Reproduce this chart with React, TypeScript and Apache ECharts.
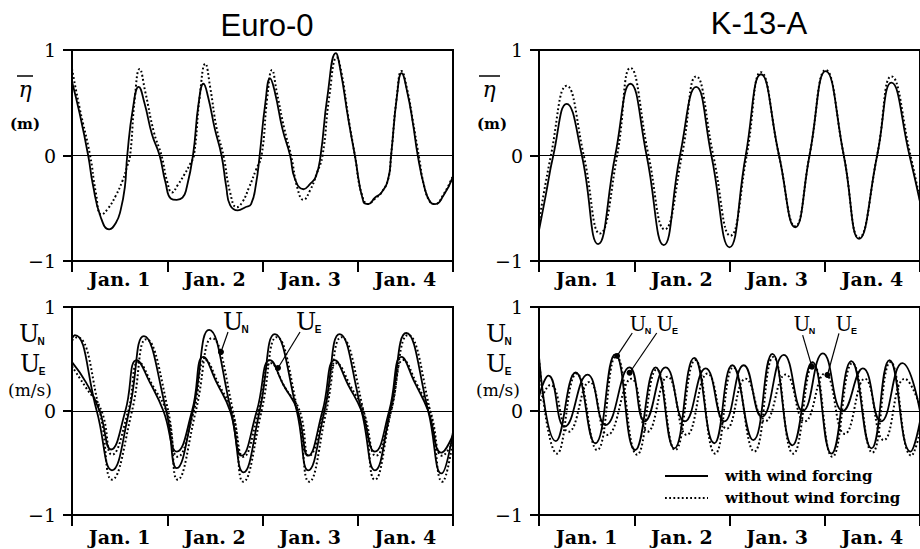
import React, { useEffect, useRef } from "react";
import * as echarts from "echarts";

type Pt = [number, number];

// x axis: days from the start of Jan. 1 (0..4); category labels between ticks
const dayLabels = ["Jan. 1", "Jan. 2", "Jan. 3", "Jan. 4"];
const panelTitles = ["Euro-0", "K-13-A"];
const legendLabels = ["with wind forcing", "without wind forcing"];

// ---- Euro-0, mean surface elevation (m)
const euroEtaWind: Pt[] = [
  [0, 0.7], [0.08, 0.4], [0.17, 0], [0.22, -0.28], [0.3, -0.58], [0.39, -0.7], [0.46, -0.64], [0.51, -0.52],
  [0.555, -0.3], [0.58, 0], [0.64, 0.45], [0.7, 0.65], [0.76, 0.5], [0.84, 0.2], [0.92, 0], [0.98, -0.25],
  [1.04, -0.41], [1.1, -0.42], [1.16, -0.4], [1.2, -0.32], [1.27, 0], [1.33, 0.5], [1.38, 0.68], [1.43, 0.55],
  [1.5, 0.25], [1.57, 0], [1.62, -0.3], [1.66, -0.47], [1.74, -0.52], [1.82, -0.49], [1.88, -0.46], [1.93, -0.28],
  [1.97, 0], [2.03, 0.5], [2.08, 0.73], [2.13, 0.6], [2.21, 0.25], [2.29, 0], [2.34, -0.22], [2.43, -0.32],
  [2.5, -0.27], [2.56, -0.2], [2.61, 0], [2.68, 0.55], [2.77, 0.97], [2.82, 0.8], [2.9, 0.35], [2.97, 0],
  [3.06, -0.44], [3.11, -0.46], [3.18, -0.4], [3.25, -0.35], [3.32, -0.22], [3.35, 0], [3.41, 0.55], [3.46, 0.78],
  [3.52, 0.6], [3.58, 0.3], [3.63, 0], [3.7, -0.3], [3.76, -0.44], [3.81, -0.46], [3.9, -0.38], [4.0, -0.2],
];
const euroEtaNoWind: Pt[] = [
  [0, 0.82], [0.08, 0.45], [0.19, 0], [0.25, -0.35], [0.31, -0.56], [0.38, -0.5], [0.46, -0.38], [0.53, -0.24],
  [0.58, -0.1], [0.61, 0], [0.66, 0.55], [0.71, 0.82], [0.77, 0.6], [0.86, 0.22], [0.94, 0], [1.0, -0.25],
  [1.05, -0.35], [1.11, -0.28], [1.18, -0.18], [1.24, -0.08], [1.28, 0], [1.34, 0.55], [1.4, 0.87], [1.45, 0.65],
  [1.52, 0.25], [1.59, 0], [1.66, -0.35], [1.73, -0.49], [1.79, -0.44], [1.86, -0.3], [1.93, -0.14], [1.99, 0],
  [2.05, 0.55], [2.1, 0.81], [2.15, 0.6], [2.23, 0.25], [2.3, 0], [2.37, -0.32], [2.43, -0.42], [2.5, -0.33],
  [2.57, -0.17], [2.63, 0], [2.7, 0.55], [2.78, 0.93], [2.83, 0.78], [2.9, 0.37], [2.97, 0], [3.04, -0.36],
  [3.11, -0.46], [3.18, -0.41], [3.25, -0.35], [3.32, -0.22], [3.35, 0], [3.41, 0.56], [3.46, 0.8], [3.52, 0.62],
  [3.58, 0.32], [3.64, 0], [3.7, -0.3], [3.76, -0.44], [3.81, -0.46], [3.9, -0.37], [4.0, -0.19],
];

// ---- K-13-A, mean surface elevation (m)
const k13EtaWind: Pt[] = [
  [0, -0.71], [0.07, -0.38], [0.15, 0], [0.29, 0.49], [0.45, 0], [0.62, -0.84], [0.8, 0], [0.96, 0.68],
  [1.13, 0], [1.31, -0.85], [1.48, 0], [1.65, 0.65], [1.81, 0], [2.0, -0.87], [2.17, 0], [2.33, 0.77],
  [2.52, 0], [2.69, -0.68], [2.84, 0], [3.01, 0.8], [3.2, 0], [3.36, -0.79], [3.55, 0], [3.7, 0.69],
  [3.89, 0], [4.0, -0.44],
];
const k13EtaNoWind: Pt[] = [
  [0, -0.63], [0.125, 0], [0.29, 0.66], [0.47, 0], [0.64, -0.74], [0.82, 0], [0.96, 0.83], [1.15, 0],
  [1.32, -0.7], [1.5, 0], [1.65, 0.75], [1.83, 0], [2.01, -0.76], [2.18, 0], [2.33, 0.79], [2.52, 0],
  [2.69, -0.67], [2.84, 0], [3.01, 0.81], [3.2, 0], [3.36, -0.78], [3.55, 0], [3.7, 0.75], [3.9, 0],
  [4.0, -0.42],
];

// ---- Euro-0, mean currents (m/s)
const euroUNWind: Pt[] = [
  [0, 0.7], [0.03, 0.73], [0.26, 0], [0.42, -0.57], [0.6, 0], [0.755, 0.72], [0.99, 0], [1.1, -0.55],
  [1.27, 0], [1.44, 0.78], [1.67, 0], [1.8, -0.59], [1.97, 0], [2.13, 0.74], [2.36, 0], [2.48, -0.57],
  [2.65, 0], [2.81, 0.74], [3.04, 0], [3.18, -0.57], [3.34, 0], [3.51, 0.75], [3.74, 0], [3.88, -0.6],
  [4.0, -0.2],
];
const euroUNNoWind: Pt[] = [
  [0, 0.68], [0.05, 0.71], [0.29, 0], [0.42, -0.66], [0.63, 0], [0.78, 0.69], [1.01, 0], [1.11, -0.66],
  [1.3, 0], [1.47, 0.7], [1.69, 0], [1.8, -0.68], [1.99, 0], [2.15, 0.71], [2.37, 0], [2.49, -0.68],
  [2.67, 0], [2.83, 0.71], [3.06, 0], [3.18, -0.66], [3.35, 0], [3.53, 0.73], [3.76, 0], [3.89, -0.68],
  [4.0, -0.28],
];
const euroUEWind: Pt[] = [
  [0, 0.47], [0.15, 0.27], [0.29, 0], [0.41, -0.37], [0.56, 0], [0.68, 0.49], [0.82, 0.27], [0.96, 0],
  [1.1, -0.39], [1.26, 0], [1.38, 0.52], [1.52, 0.27], [1.66, 0], [1.78, -0.43], [1.94, 0], [2.08, 0.49],
  [2.22, 0.25], [2.37, 0], [2.48, -0.43], [2.63, 0], [2.76, 0.49], [2.9, 0.25], [3.04, 0], [3.18, -0.39],
  [3.33, 0], [3.46, 0.52], [3.6, 0.27], [3.74, 0], [3.88, -0.4], [4.0, -0.23],
];
const euroUENoWind: Pt[] = [
  [0, 0.43], [0.15, 0.22], [0.31, 0], [0.42, -0.42], [0.59, 0], [0.7, 0.47], [0.85, 0.24], [0.99, 0],
  [1.11, -0.44], [1.28, 0], [1.4, 0.49], [1.55, 0.24], [1.68, 0], [1.8, -0.44], [1.96, 0], [2.09, 0.46],
  [2.24, 0.22], [2.39, 0], [2.49, -0.43], [2.65, 0], [2.78, 0.46], [2.93, 0.23], [3.06, 0], [3.19, -0.43],
  [3.35, 0], [3.48, 0.49], [3.63, 0.24], [3.76, 0], [3.89, -0.43], [4.0, -0.3],
];

// ---- K-13-A, mean currents (m/s)
const k13UNWind: Pt[] = [
  [0, 0.52], [0.177, -0.29], [0.385, 0.37], [0.59, -0.31], [0.8, 0.545], [1.01, -0.375], [1.225, 0.42],
  [1.42, -0.36], [1.63, 0.51], [1.84, -0.31], [2.03, 0.44], [2.25, -0.28], [2.45, 0.55], [2.66, -0.33],
  [2.87, 0.47], [3.07, -0.41], [3.28, 0.48], [3.49, -0.36], [3.68, 0.49], [3.9, -0.39], [4.0, -0.1],
];
const k13UNNoWind: Pt[] = [
  [0, 0.5], [0.19, -0.41], [0.395, 0.36], [0.61, -0.375], [0.81, 0.53], [1.03, -0.42], [1.235, 0.4],
  [1.43, -0.375], [1.64, 0.49], [1.85, -0.41], [2.04, 0.42], [2.26, -0.39], [2.46, 0.52], [2.67, -0.41],
  [2.88, 0.45], [3.08, -0.44], [3.29, 0.46], [3.5, -0.4], [3.69, 0.47], [3.91, -0.43], [4.0, -0.2],
];
const k13UEWind: Pt[] = [
  [0, 0.14], [0.1, 0.34], [0.27, -0.15], [0.51, 0.35], [0.7, -0.135], [0.95, 0.42], [1.11, -0.1],
  [1.33, 0.42], [1.53, -0.1], [1.75, 0.41], [1.945, -0.1], [2.15, 0.44], [2.34, -0.055], [2.57, 0.54],
  [2.77, 0.0], [2.98, 0.555], [3.19, 0.0], [3.4, 0.41], [3.59, -0.1], [3.815, 0.46], [4.0, 0.0],
];
const k13UENoWind: Pt[] = [
  [0, 0.06], [0.12, 0.25], [0.31, -0.2], [0.53, 0.28], [0.72, -0.23], [0.97, 0.31], [1.14, -0.2],
  [1.35, 0.33], [1.55, -0.23], [1.77, 0.36], [1.97, -0.17], [2.17, 0.31], [2.37, -0.1], [2.59, 0.35],
  [2.79, -0.1], [3.0, 0.36], [3.21, -0.22], [3.42, 0.31], [3.62, -0.28], [3.84, 0.31], [4.0, 0.05],
];

// pointer annotations (from label to curve), in data coordinates [day, value]
const euroUNPointer: Pt[] = [[1.638, 0.76], [1.564, 0.567]];
const euroUEPointer: Pt[] = [[2.394, 0.76], [2.163, 0.413]];
const k13UNPointers: Pt[][] = [[[0.979, 0.75], [0.82, 0.53]], [[2.768, 0.73], [2.865, 0.426]]];
const k13UEPointers: Pt[][] = [[[1.236, 0.75], [0.951, 0.368]], [[3.149, 0.747], [3.028, 0.346]]];

const SERIF = "DejaVu Serif";
const SANS = "Liberation Sans";

export default function App() {
  const ref = useRef<HTMLDivElement>(null);

  useEffect(() => {
    if (!ref.current) return;
    const chart = echarts.init(ref.current, undefined, { renderer: "svg" });

    const grids = [
      { left: 72, top: 50, width: 381, height: 211 },
      { left: 539, top: 50, width: 384, height: 211 },
      { left: 72, top: 307, width: 381, height: 208 },
      { left: 539, top: 307, width: 384, height: 208 },
    ].map((g) => ({ ...g, show: true, borderColor: "#000", borderWidth: 2, backgroundColor: "transparent" }));

    const xAxis: any[] = [];
    const yAxis: any[] = [];
    grids.forEach((_, i) => {
      xAxis.push({ type: "value", gridIndex: i, min: 0, max: 4, show: false, position: "top" });
      xAxis.push({
        type: "category",
        gridIndex: i,
        position: "bottom",
        data: dayLabels,
        boundaryGap: true,
        axisLine: { show: true, lineStyle: { color: "#000", width: 2 } },
        axisTick: { show: true, interval: 0, length: 11, lineStyle: { color: "#000", width: 2 } },
        axisLabel: {
          interval: 0,
          margin: i < 2 ? 8 : 12,
          color: "#000",
          fontFamily: SERIF,
          fontWeight: "bold",
          fontSize: 19,
        },
        splitLine: { show: false },
      });
      yAxis.push({
        type: "value",
        gridIndex: i,
        min: -1,
        max: 1,
        interval: 1,
        axisLine: { show: true, lineStyle: { color: "#000", width: 2 } },
        axisTick: { show: true, length: 9, lineStyle: { color: "#000", width: 2 } },
        axisLabel: {
          margin: 16,
          color: "#000",
          fontFamily: SERIF,
          fontSize: 19,
          formatter: (v: number) => (v < 0 ? "\u2212" + Math.abs(v) : String(v)),
        },
        splitLine: { show: true, lineStyle: { color: "#000", width: 1 } },
      });
    });

    const mkPointers = (ptrs: Pt[][]) => ({
      silent: true,
      symbol: ["none", "circle"],
      symbolSize: 6,
      lineStyle: { color: "#000", width: 1.2, type: "solid" },
      label: { show: false },
      emphasis: { disabled: true },
      data: ptrs.map((p) => [{ coord: p[0] }, { coord: p[1] }]),
    });

    const line = (grid: number, data: Pt[], dotted: boolean, ptrs?: Pt[][]) => {
      const s: any = {
        type: "line",
        xAxisIndex: grid * 2,
        yAxisIndex: grid,
        data,
        showSymbol: false,
        smooth: 0.5,
        clip: true,
        lineStyle: dotted
          ? { color: "#000", width: 2, type: [1.8, 2.4], cap: "butt" }
          : { color: "#000", width: 1.8, type: "solid" },
        z: dotted ? 2 : 3,
      };
      if (ptrs) s.markLine = mkPointers(ptrs);
      return s;
    };

    const series = [
      line(0, euroEtaNoWind, true),
      line(0, euroEtaWind, false),
      line(1, k13EtaNoWind, true),
      line(1, k13EtaWind, false),
      line(2, euroUNNoWind, true),
      line(2, euroUENoWind, true),
      line(2, euroUNWind, false, [euroUNPointer, euroUEPointer]),
      line(2, euroUEWind, false),
      line(3, k13UNNoWind, true),
      line(3, k13UENoWind, true),
      line(3, k13UNWind, false, [...k13UNPointers, ...k13UEPointers]),
      line(3, k13UEWind, false),
    ];

    const txt = (
      x: number,
      y: number,
      text: string,
      size: number,
      family: string,
      weight: string = "normal",
      align: string = "center",
      style: string = "normal"
    ) => ({
      type: "text",
      x,
      y,
      z: 10,
      style: {
        text,
        fill: "#000",
        fontSize: size,
        fontFamily: family,
        fontWeight: weight,
        fontStyle: style,
        textAlign: align,
        align,
        textVerticalAlign: "middle",
        verticalAlign: "middle",
      },
    });
    const hline = (x1: number, x2: number, y: number, w: number, dash?: number[]) => ({
      type: "line",
      z: 10,
      shape: { x1, y1: y, x2, y2: y },
      style: { stroke: "#000", lineWidth: w, lineDash: dash },
    });

    // "U" with subscript letter
    const uSub = (x: number, y: number, sub: string, size = 24) => [
      txt(x, y, "U", size, SERIF),
      txt(x + size / 2, y + 7, sub, size < 22 ? 9 : 10, SANS, "bold"),
    ];

    const graphic: any[] = [
      txt(267, 25, panelTitles[0], 31, SANS),
      txt(759, 23, panelTitles[1], 31, SANS),
      // eta-bar axis names
      hline(17, 33, 76, 1.5),
      txt(25, 89, "\u03b7", 22, SERIF, "normal", "center", "italic"),
      txt(25, 124, "(m)", 15, SERIF, "bold"),
      hline(479, 500, 76, 1.5),
      txt(489, 89, "\u03b7", 22, SERIF, "normal", "center", "italic"),
      txt(492, 124, "(m)", 15, SERIF, "bold"),
      // velocity axis names
      ...uSub(29, 334, "N"),
      ...uSub(30, 364, "E"),
      txt(30, 390, "(m/s)", 17, SERIF),
      ...uSub(496, 334, "N"),
      ...uSub(496, 364, "E"),
      txt(498, 390, "(m/s)", 17, SERIF),
      // curve labels
      ...uSub(233, 322, "N"),
      ...uSub(306, 322, "E"),
      ...uSub(638, 324, "N", 20),
      ...uSub(665, 324, "E", 20),
      ...uSub(802, 324, "N", 20),
      ...uSub(844, 324, "E", 20),
      // legend
      hline(665, 708, 476, 2),
      txt(725, 476, legendLabels[0], 15, SERIF, "bold", "left"),
      hline(665, 708, 498, 2, [1.8, 2.4]),
      txt(725, 498, legendLabels[1], 15, SERIF, "bold", "left"),
    ];

    chart.setOption({
      animation: false,
      backgroundColor: "#fff",
      grid: grids,
      xAxis,
      yAxis,
      series,
      graphic,
    });

    return () => chart.dispose();
  }, []);

  return (
    <div
      ref={ref}
      style={{ position: "absolute", left: 0, top: 0, width: 920, height: 549 }}
    />
  );
}
